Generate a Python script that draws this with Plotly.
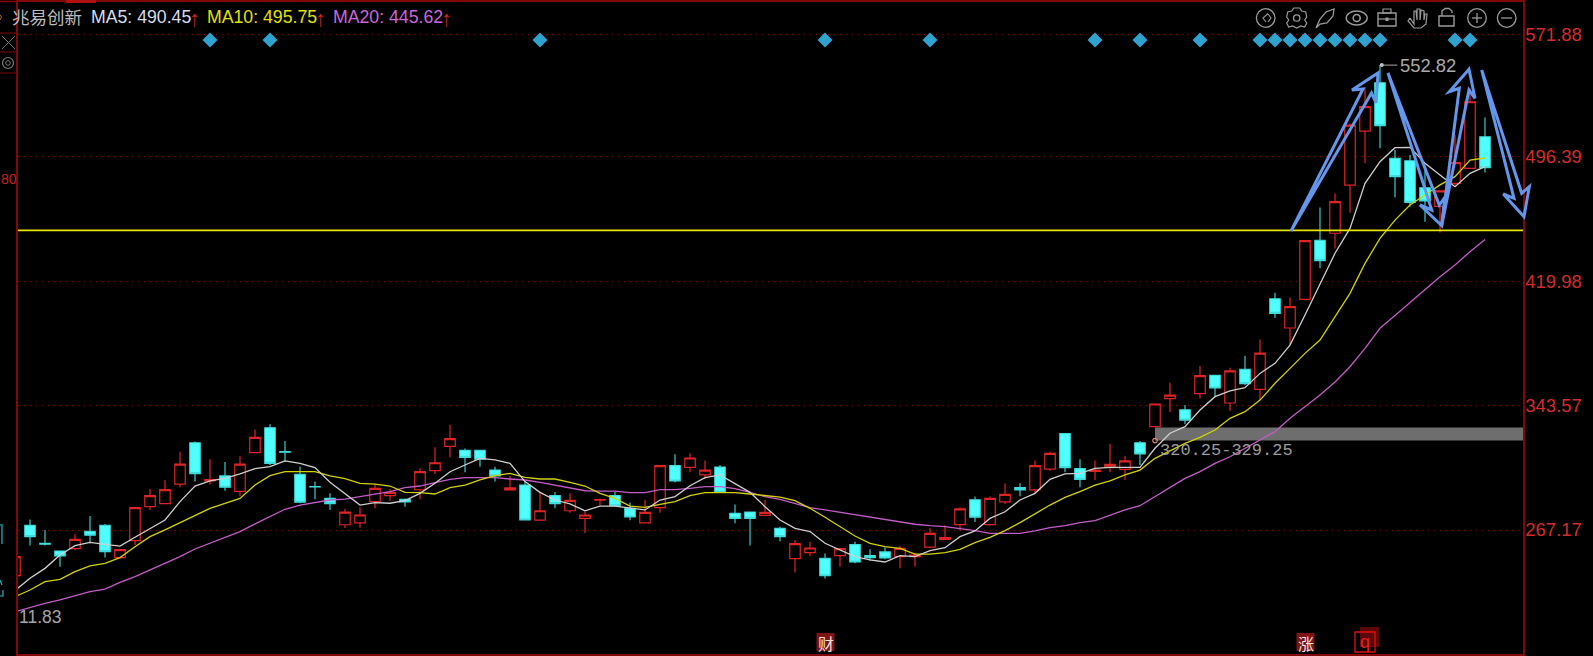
import plotly.graph_objects as go

W, H = 1593, 656

# ---- data -------------------------------------------------------------
bar_index = list(range(1, 100))
opens = [239.1,270.0,259.0,254.3,255.7,266.4,270.05,250.2,260.6,281.5,
         283.4,295.4,320.8,297.4,300.4,290.9,314.7,330.0,315.3,301.4,
         293.9,286.6,270.4,271.5,284.6,288.3,286.0,291.9,303.6,318.6,
         316.1,316.1,304.0,291.8,294.8,273.3,288.3,279.0,274.3,285.5,
         288.3,280.5,271.5,280.9,306.7,305.7,301.0,305.9,277.4,278.2,
         276.2,268.2,249.6,253.3,249.8,251.4,258.2,251.4,253.7,250.8,
         250.8,256.7,261.4,270.45,285.8,270.45,284.4,293.2,291.8,304.6,
         326.4,304.9,303.2,305.9,304.4,320.8,330.7,347.9,341.1,351.0,
         362.2,345.2,365.9,353.6,409.3,391.3,408.9,445.2,449.5,479.1,
         512.3,542.0,495.5,494.1,477.5,466.0,480.2,489.4,508.8]
closes = [250.8,263.1,258.4,251.2,261.4,263.9,253.9,255.1,280.9,288.3,
          292.0,307.7,301.8,298.2,293.4,307.7,324.1,308.1,315.0,284.2,
          293.6,283.4,278.2,276.4,292.8,290.3,284.4,303.0,308.5,323.3,
          311.8,310.6,300.4,293.0,273.3,279.0,283.4,285.4,276.4,285.8,
          282.1,275.2,278.0,306.7,297.3,311.4,304.0,290.3,274.3,274.3,
          278.0,263.1,258.8,256.1,239.1,255.7,247.5,250.2,250.0,255.9,
          251.8,265.1,262.5,280.1,275.0,286.6,289.1,291.8,306.7,314.3,
          305.5,298.3,304.0,307.5,309.6,313.9,344.6,350.1,334.7,362.0,
          354.4,364.9,357.1,375.9,400.3,404.4,445.0,432.7,468.9,516.0,
          527.3,515.6,484.3,468.5,469.3,475.5,492.9,530.3,489.8]
highs = [250.8,273.7,267.2,254.3,264.5,275.8,270.9,255.6,280.9,292.4,
         297.9,315.3,321.5,310.6,309.0,312.6,329.0,332.1,321.8,306.1,
         296.9,289.7,280.3,281.1,295.4,292.2,286.6,305.1,318.0,331.9,
         317.3,316.5,306.1,300.4,296.9,290.7,290.5,289.7,278.4,286.6,
         290.7,284.0,285.6,306.7,313.7,314.3,309.8,307.1,282.9,278.2,
         285.6,269.2,261.0,260.0,252.8,256.3,260.0,255.3,256.5,257.3,
         253.2,268.2,270.05,281.1,287.7,287.7,295.85,295.85,309.8,315.3,
         326.4,310.6,309.8,320.0,312.6,321.8,344.6,357.7,344.0,368.0,
         362.2,366.9,374.3,384.3,413.0,410.1,445.0,465.4,474.0,517.0,
         539.0,552.82,500.7,497.6,490.4,476.0,510.0,538.5,520.7]
lows = [239.1,257.6,257.6,244.65,254.9,259.0,250.2,249.5,258.0,279.5,
        283.4,293.4,296.9,295.2,291.3,287.7,314.7,307.1,309.2,283.6,
        286.0,279.5,268.4,268.6,280.5,285.2,281.5,286.0,301.6,311.8,
        302.6,306.1,296.9,291.8,273.3,273.3,280.5,277.8,265.1,282.3,
        281.5,273.1,271.5,277.8,296.3,302.6,298.5,290.3,271.3,257.6,
        276.2,260.2,241.0,251.2,237.3,244.65,246.7,248.3,249.2,243.6,
        244.65,255.9,261.4,266.8,272.1,269.8,283.2,287.9,289.7,303.6,
        302.6,293.4,297.9,302.6,297.9,307.1,330.7,339.5,332.1,347.9,
        349.1,340.3,356.3,347.0,397.6,380.8,408.9,428.0,440.2,462.1,
        492.5,501.7,471.4,465.8,456.6,450.0,478.8,489.4,486.9]
ma5 = [229.9,237.5,243.6,251.8,257.55,259.6,258.4,257.3,262.7,268.2,
       273.3,284.6,294.2,297.3,298.9,301.6,304.9,306.1,309.6,308.1,
       305.5,296.5,289.7,282.5,284.0,283.6,285.2,289.7,295.85,303.0,
       307.1,311.2,310.2,308.1,296.9,290.3,285.6,283.2,279.0,281.9,
       281.9,280.5,279.5,285.6,287.7,294.4,299.3,301.0,295.4,290.3,
       281.5,273.3,268.2,266.2,259.0,254.9,250.8,248.8,247.5,251.4,
       250.8,254.5,256.3,263.1,266.6,274.3,278.4,285.6,289.7,298.3,
       301.6,302.0,305.1,305.7,305.7,305.7,317.4,326.6,330.7,340.9,
       349.1,352.6,354.6,363.4,369.6,380.8,399.3,418.7,437.2,452.5,
       480.2,493.5,502.1,502.3,492.5,485.3,478.1,486.3,490.45]
ma10 = [226.2,230.3,235.4,236.9,241.6,245.1,246.7,250.2,256.9,263.1,
        267.2,271.7,276.4,280.5,283.6,286.6,294.8,300.6,303.0,303.0,
        303.0,300.4,298.7,295.85,295.4,294.2,290.3,290.1,289.3,293.2,
        294.8,297.9,300.6,302.0,299.5,298.5,298.5,296.5,294.2,289.7,
        286.6,281.9,281.1,282.9,284.6,288.3,290.1,290.1,290.1,289.3,
        288.3,287.4,285.2,280.5,275.0,269.2,263.5,259.0,256.9,255.9,
        252.4,252.4,253.3,255.3,259.4,262.7,266.8,271.7,277.0,282.5,
        287.2,290.7,294.8,297.3,301.0,304.0,311.2,315.9,320.4,324.1,
        328.6,335.8,339.9,347.0,357.3,366.5,375.7,383.9,398.2,412.6,
        431.0,446.4,457.6,466.9,473.0,479.2,484.3,494.5,495.75]
ma20 = [217.0,219.7,222.1,224.2,226.6,229.3,230.9,235.0,238.5,242.6,
        246.3,250.8,255.5,259.0,262.5,266.2,270.9,275.4,279.9,282.5,
        284.2,285.6,286.2,287.7,289.3,290.7,293.2,294.2,296.3,298.3,
        299.3,299.3,299.3,298.5,297.9,296.5,294.8,293.2,291.3,291.1,
        291.1,290.1,290.1,292.0,292.0,292.8,293.8,293.8,292.6,290.3,
        287.7,286.0,283.6,280.9,279.5,278.0,276.4,274.8,273.3,271.9,
        270.7,269.8,269.2,268.0,266.8,265.1,265.1,265.1,266.6,268.6,
        269.8,271.7,272.9,276.0,279.5,282.1,287.7,293.8,298.9,303.0,
        308.1,312.2,317.4,322.1,327.6,335.8,343.0,350.1,358.1,367.5,
        378.8,391.1,398.9,406.8,415.0,422.8,430.0,438.2,445.62]
price_ticks = [267.17, 343.57, 419.98, 496.39, 571.88]
price_tick_labels = ["267.17", "343.57", "419.98", "496.39", "571.88"]
signal_bars = [14,18,36,55,62,73,76,80,84,85,86,87,88,89,90,91,92,97,98]
signal_level = 568.2
support_level = 451.3
zone_label = "320.25-329.25"
zone_low, zone_high = 322.1, 330.2
zone_start = 77
zone_dot_bar, zone_dot_price = 77, 322.1
peak_bar, peak_price, peak_label_bar = 92, 552.82, 93.15
low_label = "11.83"
title_name = "兆易创新"
event_bars = [55, 87]
event_labels = ["财", "涨"]
q_bar, q_label = 91, "q"

# ---- helpers ----------------------------------------------------------
PX, PY = lambda x: x / W, lambda y: 1 - y / H
L, R, T, B = 18, 1523, 2, 654
X0, X1 = L / 15, R / 15
DARK = "#800808"
GRID = "#8a0c0c"
BLUE = "#6496ec"
ICON = "#9a9a9a"
shapes, annos = [], []


def path(points, color, width=1.0, closed=False):
    d = "M " + " L ".join(f"{PX(x):.6f},{PY(y):.6f}" for x, y in points)
    if closed:
        d += " Z"
    shapes.append(dict(type="path", xref="paper", yref="paper", path=d,
                       line=dict(color=color, width=width), fillcolor="rgba(0,0,0,0)"))


def rect(x0, y0, x1, y1, line=None, fill=None, width=1.0):
    shapes.append(dict(type="rect", xref="paper", yref="paper", x0=PX(x0), x1=PX(x1), y0=PY(y0), y1=PY(y1),
                       line=dict(color=line or "rgba(0,0,0,0)", width=width if line else 0),
                       fillcolor=fill or "rgba(0,0,0,0)"))


def circle(cx, cy, rx, ry=None, color=ICON, width=1.3):
    ry = ry or rx
    shapes.append(dict(type="circle", xref="paper", yref="paper", x0=PX(cx - rx), x1=PX(cx + rx),
                       y0=PY(cy + ry), y1=PY(cy - ry), line=dict(color=color, width=width)))


def text(x, y, s, color, size=18, anchor="left", family="Liberation Sans"):
    annos.append(dict(xref="paper", yref="paper", x=PX(x), y=PY(y), text=s, showarrow=False,
                      xanchor=anchor, yanchor="middle", align=anchor, borderpad=0, borderwidth=0,
                      font=dict(color=color, size=size, family=family)))


# ---- figure ------------------------------------------------------------
fig = go.Figure()
fig.add_trace(go.Candlestick(
    x=bar_index, open=opens, high=highs, low=lows, close=closes, name="K", showlegend=False,
    increasing=dict(line=dict(color="#e02424", width=1.2), fillcolor="#000000"),
    decreasing=dict(line=dict(color="#3fdcdc", width=1.1), fillcolor="#50ffff"),
    whiskerwidth=0, hoverinfo="skip"))
for vals, col, nm in [(ma20, "#c45cc8", "MA20"), (ma10, "#d2d200", "MA10"), (ma5, "#cfcfcf", "MA5")]:
    fig.add_trace(go.Scatter(x=bar_index, y=vals, mode="lines", name=nm, showlegend=False,
                             line=dict(color=col, width=1.3), hoverinfo="skip"))
fig.add_trace(go.Scatter(x=signal_bars, y=[signal_level] * len(signal_bars), mode="markers", showlegend=False,
                         marker=dict(symbol="diamond", size=11.5, color="#2ea3cf"), hoverinfo="skip"))
fig.add_trace(go.Scatter(x=[peak_bar, peak_label_bar], y=[peak_price, peak_price], mode="lines", showlegend=False,
                         line=dict(color="#a8a8a8", width=1), hoverinfo="skip"))
fig.add_trace(go.Scatter(x=[peak_bar + 0.12], y=[peak_price], mode="markers", showlegend=False,
                         marker=dict(symbol="circle", size=4, color="#c0c0c0"), hoverinfo="skip"))
fig.add_trace(go.Scatter(x=[zone_dot_bar], y=[zone_dot_price], mode="markers", showlegend=False,
                         marker=dict(symbol="circle-open", size=4.5, color="#e08080", line=dict(width=1.2)),
                         hoverinfo="skip"))

# gray zone and support line
shapes.append(dict(type="rect", xref="x", yref="y", x0=zone_start, x1=X1, y0=zone_low, y1=zone_high,
                   fillcolor="#6e6e6e", line=dict(width=0), layer="below"))
shapes.append(dict(type="line", xref="x", yref="y", x0=X0, x1=X1, y0=support_level, y1=support_level,
                   line=dict(color="#e6e600", width=1.6)))
annos.append(dict(xref="x", yref="y", x=zone_start + 0.2, y=315.9, text=zone_label, showarrow=False,
                  xanchor="left", yanchor="middle", font=dict(family="Liberation Mono", size=17, color="#9c9c9c")))
text(19, 617, low_label, "#a6a6a6", 17.5)
annos.append(dict(xref="x", yref="y", x=peak_label_bar + 0.08, y=peak_price, text=f"{peak_price:.2f}", showarrow=False,
                  xanchor="left", yanchor="middle", font=dict(family="Liberation Sans", size=18.4, color="#aaaaaa")))

# hand-drawn blue arrows
for arrow in [
    [(1291, 231), (1363, 89), (1352, 90), (1378, 73), (1376, 103), (1371.5, 93), (1291, 231)],
    [(1388, 73), (1431.7, 210), (1420, 205), (1441.7, 225.7), (1445, 197), (1439.3, 205), (1388, 73)],
    [(1441.7, 225.7), (1459.3, 88.3), (1449.3, 91.7), (1469, 69.3), (1475, 98.3), (1469, 90), (1441.7, 225.7)],
    [(1481.7, 70), (1514, 198.3), (1503.3, 194), (1524, 216.7), (1529.3, 186.7), (1521.7, 193.3), (1481.7, 70)],
]:
    path(arrow, BLUE, 3)

# header
text(12, 17, title_name, "#bdbdbd", 17.5, family="Noto Sans CJK SC")
text(91, 17, "MA5: 490.45", "#d6dcec", 17.7)
text(189, 18, "↑", "#c62a1c", 22)
text(207, 17, "MA10: 495.75", "#e2e200", 17.7)
text(315, 18, "↑", "#c62a1c", 22)
text(333, 17, "MA20: 445.62", "#cc66dd", 17.7)
text(441, 18, "↑", "#c62a1c", 22)

# top edge, tabs
path([(0, 1.5), (L, 1.5)], DARK, 1.6)
rect(66, 0, 96, 3, fill="#b01010")
for tx in [138, 187, 222, 257, 297, 348, 400, 460, 1275, 1321, 1378, 1425, 1472, 1500]:
    path([(tx, 0), (tx, 2)], DARK, 1.2)

# left sidebar
path([(0, 33), (L, 33)], DARK, 1)
path([(0, 52), (L, 52)], DARK, 1)
path([(0, 73), (L, 73)], DARK, 1)
path([(2, 36), (15, 49)], "#777777", 1)
path([(15, 36), (2, 49)], "#777777", 1)
circle(8, 63, 5.5, color="#777777", width=1.2)
circle(8, 63, 2.3, color="#777777", width=1)
text(16.5, 179, "80", "#c62020", 14, anchor="right")
for seg in [[(0, 525), (3, 525)], [(2, 526), (2, 544)], [(0, 580), (2, 585)], [(0, 596), (3, 596), (3, 590)]]:
    path(seg, "#25b4c8", 1.2)
path([(0, 15), (1.5, 17), (0, 20)], "#b06a20", 1)

# toolbar icons
circle(1265.7, 18, 9.3)
path([(1268, 13.5), (1263, 18), (1266, 22)], ICON, 1.1)
path([(1268, 14), (1271, 18), (1268, 22)], ICON, 1.1)
gear = []
for dx, dy in [(-3, -10), (3, -10), (5, -7), (9, -6), (10, -1), (8, 2), (10, 5), (8, 9), (4, 8), (0, 10), (-4, 8), (-8, 9), (-10, 5), (-8, 2), (-10, -1), (-9, -6), (-5, -7)]:
    gear.append((1296.7 + dx, 18 + dy))
path(gear, ICON, 1.2, closed=True)
circle(1296.7, 18, 3.2)
path([(1316, 28), (1320, 19), (1326, 12), (1334, 9), (1333, 16), (1327, 23), (1320, 24), (1316, 28)], ICON, 1.3)
circle(1356.7, 18, 10.5, 7, width=1.4)
circle(1356.7, 18, 3.5, width=1.6)
rect(1378, 13, 1396, 26, line=ICON, width=1.4)
path([(1378, 19), (1396, 19)], ICON, 1.2)
rect(1383, 9, 1391, 13, line=ICON, width=1.2)
rect(1385.5, 17.5, 1388.5, 21, fill=ICON)
path([(1410, 18), (1414, 24), (1414, 11), (1416, 11), (1417, 20), (1417, 9), (1420, 9), (1420, 20), (1421, 10), (1424, 11), (1424, 20), (1425, 14), (1427, 14), (1426, 24), (1421, 28), (1414, 28), (1408, 21), (1410, 18)], ICON, 1.2)
rect(1439, 16, 1454, 26, line=ICON, width=1.4)
path([(1442, 16), (1442, 11), (1445, 8.5), (1449, 8.5), (1452, 11), (1452, 13)], ICON, 1.3)
circle(1477, 18, 9.3)
path([(1472, 18), (1482, 18)], ICON, 1.3)
path([(1477, 13), (1477, 23)], ICON, 1.3)
circle(1506.7, 18, 9.3)
path([(1501, 18), (1512, 18)], ICON, 1.3)

# bottom event tags
for b, lab in zip(event_bars, event_labels):
    cx = b * 15 + 0.5
    rect(cx - 9, 633, cx + 9, 651, fill="#7c1414")
    text(cx, 642.5, lab, "#f0e0e0", 16, anchor="center", family="Noto Sans CJK SC")
qx = q_bar * 15
rect(qx - 5, 627, qx + 14, 647, fill="#5c0808")
rect(qx - 10, 632, qx + 10, 652, line="#e01010", width=1.3)
text(qx, 642, q_label, "#e02020", 18, anchor="center")

fig.update_layout(
    width=W, height=H, autosize=False, margin=dict(l=0, r=0, t=0, b=0, pad=0),
    paper_bgcolor="#000000", plot_bgcolor="#000000", showlegend=False, boxgap=0.3, boxgroupgap=0,
    shapes=shapes, annotations=annos,
    xaxis=dict(domain=[L / W, R / W], range=[X0, X1], rangeslider=dict(visible=False), showgrid=False,
               zeroline=False, showticklabels=False, ticks="", showline=True, linecolor=DARK, linewidth=1.6,
               mirror=True, type="linear", anchor="y"),
    yaxis=dict(domain=[1 - B / H, 1 - T / H], range=[190.98, 591.6], side="right", anchor="x",
               tickmode="array", tickvals=price_ticks, ticktext=price_tick_labels, ticks="", ticklabelstandoff=-3,
               tickfont=dict(color="#d42c2c", size=18.5, family="Liberation Sans"),
               showgrid=True, gridcolor=GRID, griddash="1px,5px", gridwidth=1, zeroline=False,
               showline=True, linecolor=DARK, linewidth=1.6, mirror=True),
)
fig.write_html("out.html", config=dict(displayModeBar=False, staticPlot=True),
               post_script="document.body.style.margin='0';document.body.style.background='#000';document.body.style.overflow='hidden';")
